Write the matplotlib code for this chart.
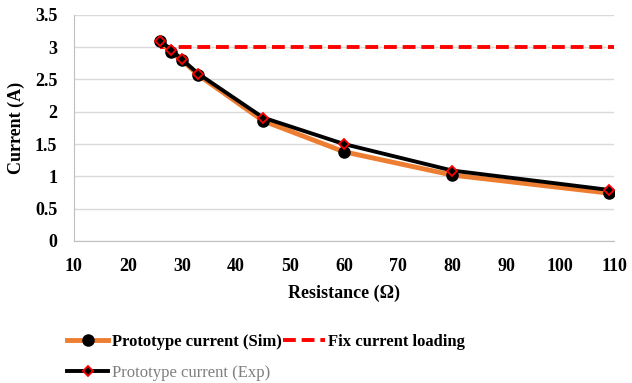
import numpy as np
import matplotlib.pyplot as plt

plt.rcParams['font.family'] = ['Liberation Serif', 'DejaVu Serif']

# load resistance (ohm) and measured currents (A)
resistance = [26, 28, 30, 33, 45, 60, 80, 109]
current_sim = [3.10, 2.92, 2.80, 2.57, 1.86, 1.38, 1.02, 0.74]
current_exp = [3.10, 2.96, 2.81, 2.59, 1.91, 1.50, 1.09, 0.79]
fix_x = [26, 110]
fix_current = [3.0, 3.0]

fig = plt.figure(figsize=(6.32, 3.83), dpi=100)
ax = fig.add_axes([0.117, 0.371, 0.855, 0.590])

sim, = ax.plot(resistance, current_sim, color='#ED7D31', lw=3.5, marker='o',
               ms=8, mfc='black', mec='black', zorder=3,
               label='Prototype current (Sim)')
exp, = ax.plot(resistance, current_exp, color='black', lw=2.8, marker='D',
               ms=5, mfc='black', mec='red', mew=1.3, zorder=4,
               label='Prototype current (Exp)')
fix, = ax.plot(fix_x, fix_current, color='red', lw=2.8, ls=(0, (3.3, 1.5)),
               zorder=2, label='Fix current loading')

ax.set_xlim(10, 110)
ax.set_ylim(0, 3.5)
ax.set_xticks(np.arange(10, 111, 10))
ax.set_yticks(np.arange(0, 3.51, 0.5))
ax.set_yticklabels(['0', '0.5', '1', '1.5', '2', '2.5', '3', '3.5'])
ax.tick_params(length=0, labelsize=13)
ax.tick_params(axis='x', pad=12)
ax.tick_params(axis='y', pad=12)
for lbl in ax.get_xticklabels() + ax.get_yticklabels():
    lbl.set_fontweight('bold')

ax.grid(axis='y', color='#d9d9d9', lw=1)
ax.set_axisbelow(True)
for side in ['top', 'right']:
    ax.spines[side].set_visible(False)
for side in ['left', 'bottom']:
    ax.spines[side].set_color('#bfbfbf')

ax.set_xlabel('Resistance (Ω)', fontsize=13, fontweight='bold', labelpad=7)
ax.set_ylabel('Current (A)', fontsize=13, fontweight='bold', labelpad=7)

leg = fig.legend(handles=[sim, exp, fix], ncol=2, loc='lower left',
                 bbox_to_anchor=(0.082, -0.034), frameon=False, fontsize=12,
                 handlelength=2.5, handletextpad=0.2, columnspacing=0.1,
                 labelspacing=0.9)
texts = leg.get_texts()
texts[0].set_fontweight('bold')
texts[2].set_fontweight('bold')
texts[1].set_color('#7f7f7f')

fig.savefig('out.png', dpi=100)
